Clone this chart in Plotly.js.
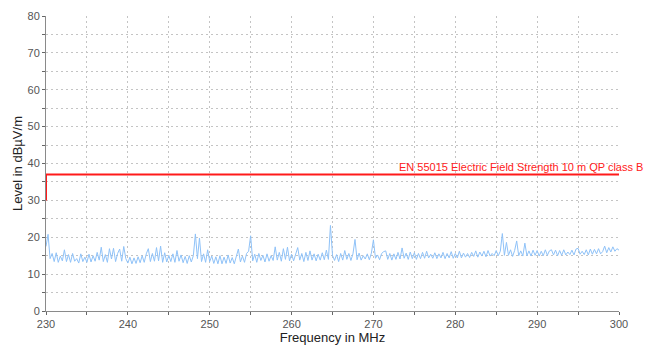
<!DOCTYPE html>
<html>
<head>
<meta charset="utf-8">
<script src="https://cdn.plot.ly/plotly-3.0.1.min.js"></script>
<style>html,body{margin:0;padding:0;background:#fff;overflow:hidden}#chart{width:646px;height:345px}</style>
</head>
<body>
<div id="chart"></div>
<script>
// Measured spectrum: start frequency / step (MHz) and levels (dBµV/m)
const FREQ_START = 230;
const FREQ_STEP = 0.25;
const levels = [
  17.5,20.8,14.2,15.6,13.4,15.8,13.2,14.9,13.6,16.6,13.4,15.3,13.2,15.6,13.5,14.2,13.0,15.5,13.4,14.6,
  13.2,15.4,13.3,15.0,13.5,15.9,13.8,17.3,13.4,15.3,13.2,16.9,14.1,17.0,13.4,15.6,16.8,13.5,17.5,14.2,
  13.0,14.6,12.8,14.4,12.9,14.7,13.1,15.0,13.2,15.5,16.9,13.4,15.6,13.5,17.2,13.6,17.6,13.2,15.8,13.3,
  15.1,13.4,15.5,13.2,16.4,13.5,15.2,13.1,14.8,12.9,15.0,13.3,15.0,20.9,14.2,19.8,13.4,15.5,13.2,16.6,
  13.4,14.9,12.9,14.7,12.8,15.0,12.8,14.6,12.9,15.2,13.0,14.5,12.8,15.1,16.8,13.3,14.9,13.2,15.6,16.2,
  20.4,13.6,15.4,13.2,15.6,13.7,15.1,13.3,15.5,13.5,15.0,13.7,17.4,13.8,15.9,13.5,16.9,14.0,17.3,13.6,
  15.4,13.6,15.3,17.2,13.8,15.6,13.4,15.9,13.7,16.3,13.8,15.5,13.6,15.4,13.8,15.8,13.9,16.5,14.0,23.2,
  15.1,13.7,15.3,13.4,15.6,13.8,16.4,14.0,15.6,13.7,15.5,19.4,13.9,15.7,13.8,15.0,14.1,15.5,13.9,15.7,
  19.3,14.3,15.2,13.9,15.6,16.1,16.3,14.0,15.6,13.8,15.5,14.0,15.9,14.1,17.1,14.3,15.7,14.0,16.0,14.2,
  15.8,14.0,15.6,14.2,15.9,14.3,16.2,14.4,15.4,14.3,15.8,14.2,15.5,14.4,15.9,14.2,15.6,14.4,16.1,14.3,
  15.6,14.4,16.2,14.4,15.7,14.6,15.6,14.5,15.9,14.8,16.3,14.6,16.0,14.9,16.2,14.7,16.4,14.9,15.6,15.0,
  16.4,15.0,16.2,21.0,15.1,18.6,15.1,16.6,14.8,16.4,19.0,15.0,16.3,14.9,18.4,15.0,16.3,14.9,16.5,15.1,
  16.4,14.9,16.2,15.0,16.6,15.1,16.3,16.6,15.2,16.5,15.0,16.4,15.1,16.6,15.2,16.0,15.3,16.5,15.2,16.8,
  17.0,15.4,16.2,15.3,16.6,15.2,16.8,15.4,16.7,15.5,16.9,15.5,16.1,17.6,15.8,17.2,16.0,17.4,16.2,16.9,
  16.5
];

// Limit line
const limitFreq = [230, 230, 300];
const limitLevel = [30, 37, 37];
const limitLabel = 'EN 55015 Electric Field Strength 10 m QP class B';
const limitLabelFreq = 272.9;

const xTicks = [230, 240, 250, 260, 270, 280, 290, 300];
const yTicks = [0, 10, 20, 30, 40, 50, 60, 70, 80];

const traces = [
  {
    type: 'scatter', mode: 'lines',
    x0: FREQ_START, dx: FREQ_STEP, y: levels,
    line: {color: '#8fc2f8', width: 1},
    hoverinfo: 'skip', showlegend: false
  },
  {
    type: 'scatter', mode: 'lines',
    x: limitFreq, y: limitLevel,
    line: {color: '#ff1a1a', width: 2},
    hoverinfo: 'skip', showlegend: false, cliponaxis: false
  }
];

const gridCol = '#c4c4c4';
const gridDash = '2px,3px';
const layout = {
  width: 646, height: 345,
  margin: {l: 46, r: 27, t: 16, b: 34, pad: 0},
  paper_bgcolor: '#ffffff', plot_bgcolor: '#ffffff',
  font: {family: 'Liberation Sans, Arial, sans-serif', size: 11, color: '#555555'},
  showlegend: false,
  xaxis: {
    range: [230, 300], tickvals: xTicks, ticktext: xTicks.map(String),
    showline: true, linecolor: '#8a8a8a', linewidth: 1,
    ticks: 'outside', ticklen: 3, tickcolor: '#666666',
    showgrid: true, gridcolor: gridCol, griddash: gridDash, gridwidth: 1,
    minor: {dtick: 5, tick0: 230, ticks: 'outside', ticklen: 3, tickcolor: '#666666', showgrid: true, gridcolor: gridCol, griddash: gridDash, gridwidth: 1},
    zeroline: false, mirror: false,
    tickfont: {size: 11, color: '#555555'},
    title: {text: 'Frequency in MHz', font: {size: 13, color: '#222222'}, standoff: 4}
  },
  yaxis: {
    range: [0, 80], tickvals: yTicks, ticktext: yTicks.map(String),
    showline: true, linecolor: '#8a8a8a', linewidth: 1,
    ticks: 'outside', ticklen: 3, tickcolor: '#666666',
    showgrid: true, gridcolor: gridCol, griddash: gridDash, gridwidth: 1,
    minor: {dtick: 5, tick0: 0, ticks: 'outside', ticklen: 3, tickcolor: '#666666', showgrid: true, gridcolor: gridCol, griddash: gridDash, gridwidth: 1},
    zeroline: false,
    tickfont: {size: 11, color: '#555555'},
    title: {text: 'Level in dBµV/m', font: {size: 13, color: '#222222'}, standoff: 1}
  },
  annotations: [{
    x: limitLabelFreq, y: limitLevel[2], xref: 'x', yref: 'y',
    text: limitLabel, showarrow: false,
    xanchor: 'left', yanchor: 'bottom', yshift: 0,
    font: {size: 11, color: '#ff2020', family: 'Liberation Sans, Arial, sans-serif'}
  }]
};

Plotly.newPlot('chart', traces, layout, {staticPlot: true, displayModeBar: false});
</script>
</body>
</html>
